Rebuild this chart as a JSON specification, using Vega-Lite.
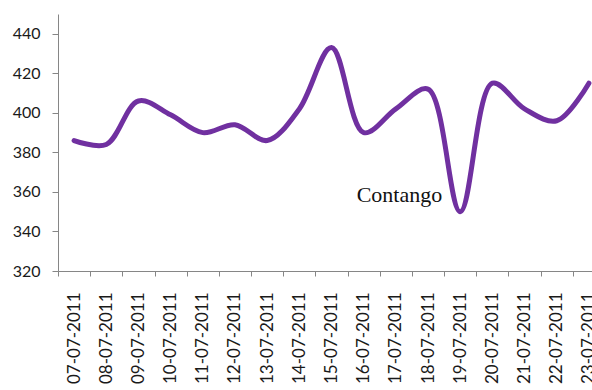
{
  "$schema": "https://vega.github.io/schema/vega-lite/v6.json",
  "width": 534,
  "height": 257,
  "autosize": {"type": "none"},
  "padding": {"left": 58, "top": 14, "right": 0, "bottom": 119},
  "background": "white",
  "config": {
    "view": {"stroke": null},
    "axis": {"grid": false, "domainColor": "#868686", "tickColor": "#868686", "labelFont": "Lato", "labelFontSize": 16, "labelColor": "#1a1a1a"}
  },
  "datasets": {
    "prices": [
      {"date": "07-07-2011", "price": 386},
      {"date": "08-07-2011", "price": 384},
      {"date": "09-07-2011", "price": 406},
      {"date": "10-07-2011", "price": 399},
      {"date": "11-07-2011", "price": 390},
      {"date": "12-07-2011", "price": 394},
      {"date": "13-07-2011", "price": 386},
      {"date": "14-07-2011", "price": 402},
      {"date": "15-07-2011", "price": 433},
      {"date": "16-07-2011", "price": 390},
      {"date": "17-07-2011", "price": 402},
      {"date": "18-07-2011", "price": 412},
      {"date": "19-07-2011", "price": 350},
      {"date": "20-07-2011", "price": 415},
      {"date": "21-07-2011", "price": 402},
      {"date": "22-07-2011", "price": 396},
      {"date": "23-07-2011", "price": 415}
    ],
    "notes": [
      {"date": "19-07-2011", "price": 355, "label": "Contango"}
    ]
  },
  "encoding": {
    "x": {
      "field": "date",
      "type": "ordinal",
      "sort": null,
      "bandPosition": 0.5,
      "scale": {"type": "band", "paddingInner": 0, "paddingOuter": 0, "range": [0, 547]},
      "axis": {"title": null, "labelAngle": -90, "tickBand": "extent", "tickSize": 5, "labelPadding": 16, "labelFontSize": 17}
    },
    "y": {
      "field": "price",
      "type": "quantitative",
      "scale": {"domain": [320, 450], "nice": false, "zero": false},
      "axis": {"title": null, "values": [320, 340, 360, 380, 400, 420, 440], "tickSize": 6, "labelPadding": 12}
    }
  },
  "layer": [
    {
      "data": {"name": "prices"},
      "mark": {"type": "line", "interpolate": "catmull-rom", "color": "#7030A0", "strokeWidth": 5, "strokeCap": "round"}
    },
    {
      "data": {"name": "notes"},
      "mark": {"type": "text", "font": "Liberation Serif", "fontSize": 22, "align": "right", "baseline": "alphabetic", "dx": -18, "color": "#111111"},
      "encoding": {"text": {"field": "label"}}
    }
  ]
}
